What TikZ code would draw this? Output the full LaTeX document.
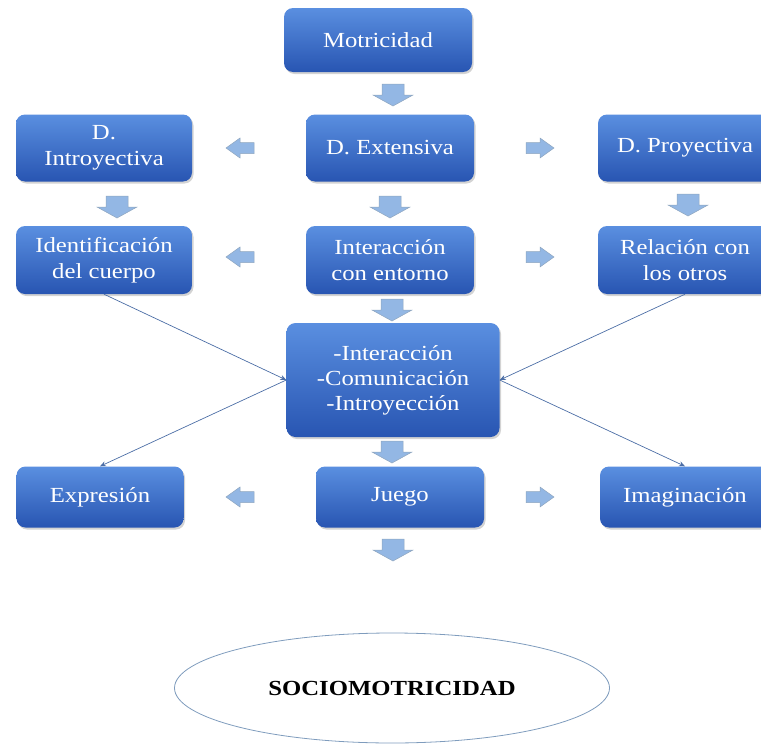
\documentclass[tikz,border=0pt]{standalone}
\usepackage{fontspec}
\setmainfont{Liberation Serif}[FakeStretch=1.15]
\usetikzlibrary{shadows,arrows.meta,shapes.geometric}

\definecolor{boxtop}{HTML}{5A8FE0}
\definecolor{boxbot}{HTML}{2855B2}
\definecolor{arrfill}{HTML}{93B7E4}
\definecolor{arrline}{HTML}{8FA6BF}
\definecolor{linkcol}{HTML}{4C6EA6}
\definecolor{ovalline}{HTML}{7F9CBD}

\begin{document}
\begin{tikzpicture}[x=1pt, y=-1pt,
        mbox/.style = {rounded corners=9pt, top color=boxtop, bottom color=boxbot, draw=none, text=white, align=center, inner sep=0pt, font=\fontsize{21.5}{26}\selectfont, drop shadow={opacity=0.35, shadow xshift=1.5pt, shadow yshift=-2pt}},
        link/.style = {linkcol, line width=0.7pt, -{Stealth[length=6pt, width=5pt]}},
        varr/.pic = {\draw[fill=arrfill, draw=arrline, line width=0.5pt] (-11,-11) -- (11,-11) -- (11,0) -- (20,0) -- (0,11) -- (-20,0) -- (-11,0) -- cycle;},
        harr/.pic = {\draw[fill=arrfill, draw=arrline, line width=0.5pt] (-14,-5.5) -- (0,-5.5) -- (0,-10) -- (14,0) -- (0,10) -- (0,5.5) -- (-14,5.5) -- cycle;}
    ]
        \useasboundingbox (0,0) rectangle (761,744);

        % boxes
        \node[mbox, minimum width=188pt, minimum height=64pt] (mot) at (378,40) {Motricidad};

        \node[mbox, minimum width=176pt, minimum height=67pt] (dintro) at (104,148) {D.\\Introyectiva};
        \node[mbox, minimum width=168pt, minimum height=67pt] (dext) at (390,148) {D. Extensiva};
        \node[mbox, minimum width=174pt, minimum height=67pt] (dproy) at (685,148) {D. Proyectiva};

        \node[mbox, minimum width=176pt, minimum height=68pt] (ident) at (104,260) {Identificación\\del cuerpo};
        \node[mbox, minimum width=168pt, minimum height=68pt] (inter) at (390,260) {Interacción\\con entorno};
        \node[mbox, minimum width=174pt, minimum height=68pt] (rel) at (685,260) {Relación con\\los otros};

        \node[mbox, minimum width=213pt, minimum height=114pt, font=\fontsize{21.5}{25}\selectfont] (central) at (393,380) {-Interacción\\-Comunicación\\-Introyección};

        \node[mbox, minimum width=167pt, minimum height=61pt] (expr) at (100,497) {Expresión};
        \node[mbox, minimum width=168pt, minimum height=61pt] (juego) at (400,497) {Juego};
        \node[mbox, minimum width=170pt, minimum height=61pt] (imag) at (685,497) {Imaginación};

        \node[ellipse, draw=ovalline, line width=0.8pt, minimum width=435pt, minimum height=110pt, font=\fontsize{21.5}{25}\selectfont\bfseries] (socio) at (392,688) {SOCIOMOTRICIDAD};

        % block arrows
        \pic at (393,95) {varr};
        \pic at (117,207) {varr};
        \pic at (390,207) {varr};
        \pic at (688,205) {varr};
        \pic at (392,310) {varr};
        \pic at (392,452) {varr};
        \pic at (393,550) {varr};

        \pic[xscale=-1] at (240,148) {harr};
        \pic at (540,148) {harr};
        \pic[xscale=-1] at (240,257) {harr};
        \pic at (540,257) {harr};
        \pic[xscale=-1] at (240,497) {harr};
        \pic at (540,497) {harr};

        % connectors
        \draw[link] (ident.south) -- (central.west);
        \draw[link] (rel.south) -- (central.east);
        \draw[link] (central.west) -- (expr.north);
        \draw[link] (central.east) -- (imag.north);
    \end{tikzpicture}
\end{document}
